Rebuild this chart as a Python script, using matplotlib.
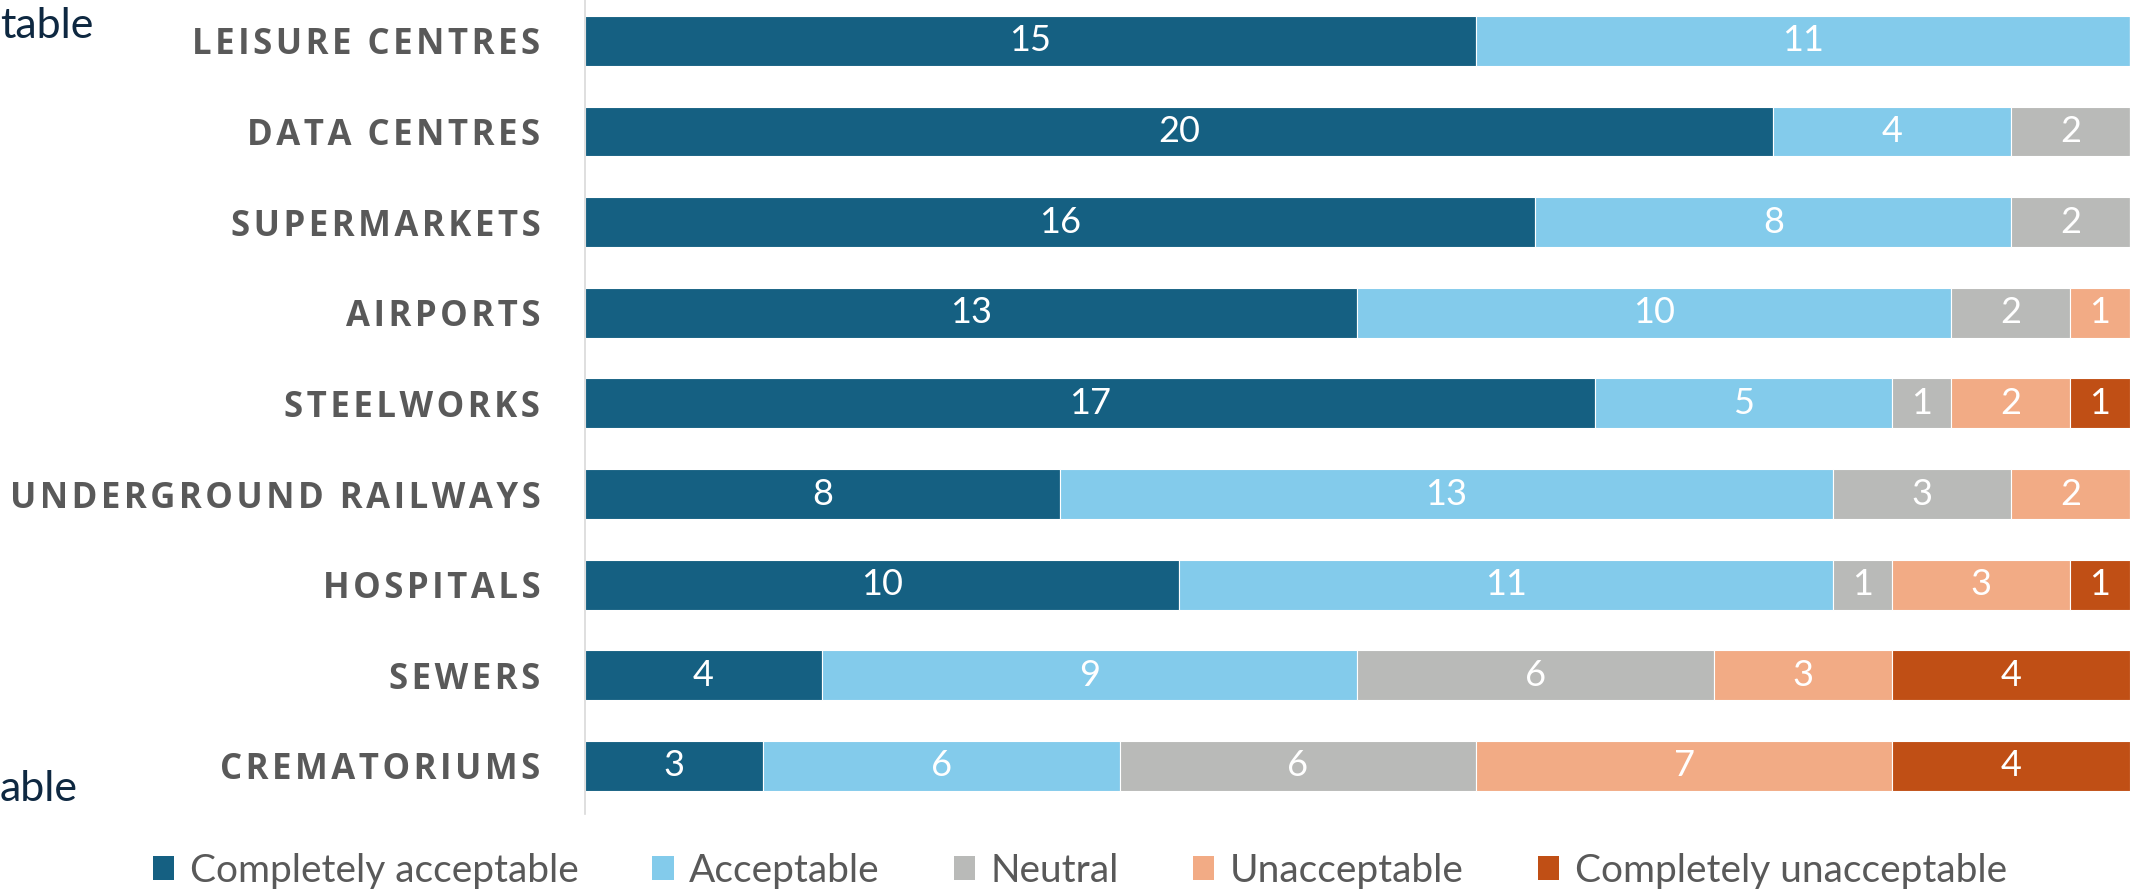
import matplotlib

matplotlib.use("Agg")
import matplotlib.pyplot as plt
from matplotlib.patches import Patch
import numpy as np

categories = ["LEISURE CENTRES", "DATA CENTRES", "SUPERMARKETS", "AIRPORTS", "STEELWORKS",
              "UNDERGROUND RAILWAYS", "HOSPITALS", "SEWERS", "CREMATORIUMS"]
series_names = ["Completely acceptable", "Acceptable", "Neutral", "Unacceptable",
                "Completely unacceptable"]
completely_acceptable = [15, 20, 16, 13, 17, 8, 10, 4, 3]
acceptable = [11, 4, 8, 10, 5, 13, 11, 9, 6]
neutral = [0, 2, 2, 2, 1, 3, 1, 6, 6]
unacceptable = [0, 0, 0, 1, 2, 2, 3, 3, 7]
completely_unacceptable = [0, 0, 0, 0, 1, 0, 1, 4, 4]

colors = ["#156082", "#83cbeb", "#b9bab8", "#f2ab85", "#c04f15"]
GREY = "#595959"


def spaced(s, gap="\u200a"):
    # fake letter spacing: hair space between characters
    return gap.join(s)


fig = plt.figure(figsize=(21.34, 8.94), dpi=100)
ax = fig.add_axes([0.274, 0.0895, 0.724, 0.9105])

y = np.arange(len(categories))
left = np.zeros(len(categories))
for name, vals, col in zip(series_names,
                           [completely_acceptable, acceptable, neutral, unacceptable,
                            completely_unacceptable], colors):
    vals = np.asarray(vals, dtype=float)
    bars = ax.barh(y, vals, left=left, height=0.55, color=col, edgecolor="white",
                   linewidth=0.8, label=name)
    ax.bar_label(bars, labels=[str(int(v)) if v > 0 else "" for v in vals],
                 label_type="center", color="white", fontsize=26, family="Lato")
    left += vals

ax.set_xlim(0, 26)
ax.set_ylim(8.53, -0.45)
ax.set_yticks(y)
ax.set_yticklabels([spaced(c) for c in categories], fontsize=25, fontweight="bold",
                   color=GREY, family=["Open Sans", "DejaVu Sans"])
ax.tick_params(axis="y", length=0, pad=32)
ax.set_xticks([])
for s in ["top", "right", "bottom"]:
    ax.spines[s].set_visible(False)
ax.spines["left"].set_color("#d9d9d9")
ax.spines["left"].set_linewidth(1.2)

handles = [Patch(facecolor=c, edgecolor="none") for c in colors]
fig.legend(handles, series_names, loc="center", bbox_to_anchor=(0.506, 0.026), ncol=5,
           frameon=False, prop={"family": "Lato", "size": 28}, labelcolor=GREY,
           handlelength=0.55, handleheight=0.55, handletextpad=0.4, columnspacing=1.9)

# partially visible labels at the left edge
fig.text(0.0, 1 - 26 / 894, "table", ha="left", va="center", fontsize=31,
         color="#0e2841", family="Lato")
fig.text(0.0, 1 - 789 / 894, "able", ha="left", va="center", fontsize=31,
         color="#0e2841", family="Lato")

fig.savefig("out.png", dpi=100)
